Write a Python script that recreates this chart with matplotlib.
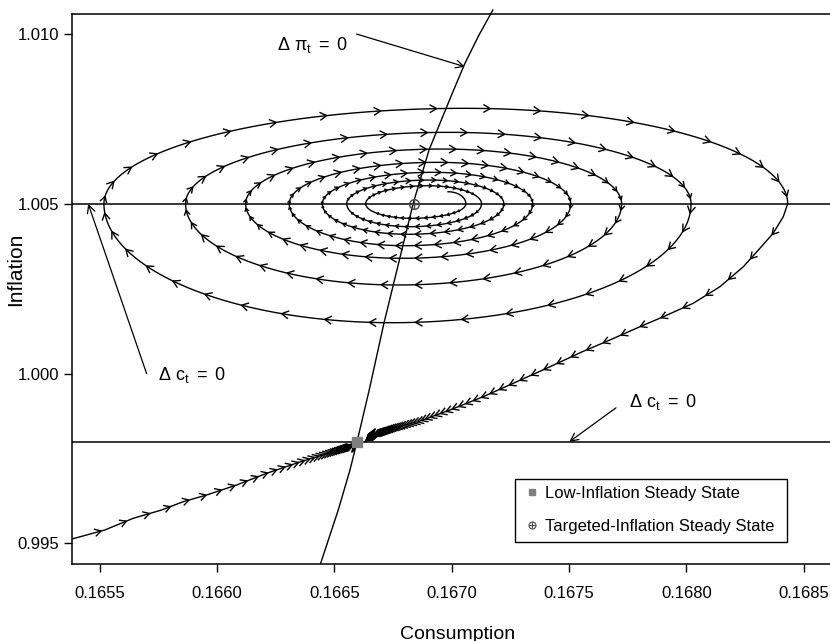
import numpy as np
import matplotlib.pyplot as plt
from matplotlib.collections import LineCollection
from matplotlib.lines import Line2D
from matplotlib.patches import Rectangle

plt.rcParams['font.family'] = ['Liberation Sans', 'DejaVu Sans']
plt.rcParams['mathtext.fontset'] = 'custom'
plt.rcParams['mathtext.rm'] = 'Liberation Sans'
plt.rcParams['mathtext.it'] = 'Liberation Sans'
plt.rcParams['mathtext.bf'] = 'Liberation Sans:bold'

# ---- values ----
# steady states (consumption, inflation)
low_ss = (0.166594, 0.99799)
target_ss = (0.16684, 1.005)

# delta pi = 0 locus
dpi_cons = [0.166441, 0.166516, 0.166566, 0.166596, 0.166648, 0.166711,
            0.166836, 0.166903, 0.166999, 0.167056, 0.167116, 0.167175]
dpi_infl = [0.99441, 0.995981, 0.997159, 0.997992, 0.999515, 1.001488,
            1.005023, 1.006584, 1.008203, 1.009137, 1.009971, 1.010707]

# delta c = 0 loci
dc_upper = 1.005
dc_lower = 0.99799

# spiral around the targeted steady state (turning points, inside out)
spiral_start = (0.166984, 1.005355)
right_cons = [0.167060, 0.167127, 0.167222, 0.167345, 0.167507, 0.167724, 0.168020, 0.168432]
left_cons = [0.166633, 0.166552, 0.166448, 0.166307, 0.166121, 0.165865, 0.165517]
top_cons = [0.166898, 0.166907, 0.166920, 0.166937, 0.166958, 0.166984, 0.167056]
top_infl = [1.005532, 1.005700, 1.005927, 1.006221, 1.006613, 1.007105, 1.007812]
bottom_cons = [0.166830, 0.166822, 0.166813, 0.166800, 0.166788, 0.166770, 0.166745]
bottom_infl = [1.004572, 1.004325, 1.004101, 1.003765, 1.003394, 1.002608, 1.001497]

# saddle path into the low-inflation steady state
upper_cons = [0.168432, 0.168413, 0.168370, 0.168307, 0.168243, 0.168143, 0.168029,
              0.167902, 0.167802, 0.167674, 0.167554, 0.167404, 0.167277, 0.167134,
              0.166992, 0.166864, 0.166750, 0.166665, 0.166630]
upper_infl = [1.005000, 1.004619, 1.004130, 1.003638, 1.003147, 1.002557, 1.002069,
              1.001674, 1.001379, 1.000988, 1.000634, 1.000154, 0.999759, 0.999318,
              0.998926, 0.998602, 0.998381, 0.998190, 0.997998]
lower_cons = [0.165381, 0.165521, 0.165642, 0.165763, 0.165855, 0.165955, 0.166083,
              0.166211, 0.166353, 0.166495, 0.166580, 0.166594]
lower_infl = [0.995127, 0.995392, 0.995736, 0.995981, 0.996225, 0.996423, 0.996717,
              0.997062, 0.997395, 0.997698, 0.997880, 0.997984]


def quarter(p_h, p_v, n=41):
    """quarter ellipse from a point with horizontal tangent to one with vertical tangent"""
    t = np.linspace(0, np.pi / 2, n)
    x = p_h[0] + (p_v[0] - p_h[0]) * np.sin(t)
    y = p_v[1] + (p_h[1] - p_v[1]) * np.cos(t)
    return np.column_stack([x, y])


def head(p, u, h, ang=np.deg2rad(30)):
    c, s = np.cos(ang), np.sin(ang)
    b = -u
    l = np.array([c * b[0] - s * b[1], s * b[0] + c * b[1]])
    r = np.array([c * b[0] + s * b[1], -s * b[0] + c * b[1]])
    return [[p, p + h * l], [p, p + h * r]]


fig = plt.figure(figsize=(8.3, 6.41), dpi=100)
ax = fig.add_axes([72 / 830, 77 / 641, 772 / 830, 550 / 641])
ax.set_xlim(0.165381, 0.168672)
ax.set_ylim(0.99439, 1.01059)

# nullclines
ax.axhline(dc_upper, color='black', lw=1.1)
ax.axhline(dc_lower, color='black', lw=1.1)
ax.plot(dpi_cons, dpi_infl, color='black', lw=1.0, clip_on=False)

# spiral path
arcs = [quarter(spiral_start, (right_cons[0], dc_upper))]
for i in range(len(left_cons)):
    R = (right_cons[i], dc_upper)
    B = (bottom_cons[i], bottom_infl[i])
    L = (left_cons[i], dc_upper)
    T = (top_cons[i], top_infl[i])
    Rn = (right_cons[i + 1], dc_upper)
    arcs += [quarter(B, R)[::-1], quarter(B, L), quarter(T, L)[::-1], quarter(T, Rn)]

spiral = np.vstack(arcs)
ax.plot(spiral[:, 0], spiral[:, 1], color='black', lw=1.0)
ax.plot(upper_cons, upper_infl, color='black', lw=1.0)
ax.plot(lower_cons, lower_infl, color='black', lw=1.0)

segs = []
for k, arc in enumerate(arcs):
    d = ax.transData.transform(arc)
    idx = range(2, len(arc), 4) if k > 0 else [20, 36]
    for j in idx:
        u = d[min(j + 1, len(d) - 1)] - d[j - 1]
        u = u / np.hypot(*u)
        gap = np.hypot(*(d[min(j + 2, len(d) - 1)] - d[j - 2]))
        h = min(8.0, 0.45 * gap)
        if h > 2.0:
            segs += head(d[j], u, h)


def branch_heads(cons, infl, ratio, size=7.5):
    d = ax.transData.transform(np.column_stack([cons, infl]))
    seg = np.diff(d, axis=0)
    seglen = np.hypot(seg[:, 0], seg[:, 1])
    cum = np.concatenate([[0], np.cumsum(seglen)])
    total = cum[-1]
    out = []
    dist = total * ratio
    while dist > 1.2:
        s = total - dist
        i = min(np.searchsorted(cum, s, side='right') - 1, len(seg) - 1)
        p = d[i] + (s - cum[i]) / seglen[i] * seg[i]
        out += head(p, seg[i] / seglen[i], size)
        dist *= ratio
    return out


segs += branch_heads(upper_cons, upper_infl, 0.93)
segs += branch_heads(lower_cons, lower_infl, 0.90)
inv = ax.transData.inverted()
segs = [inv.transform(np.array(s)) for s in segs]
ax.add_collection(LineCollection(segs, colors='black', linewidths=1.0))

# steady states
ax.plot(*low_ss, marker='s', color='#7f7f7f', ms=7, ls='none', zorder=5)
ax.plot(*target_ss, marker='o', mfc='none', mec='#444444', ms=7, mew=1.0, ls='none', zorder=5)
ax.plot(*target_ss, marker='+', color='#444444', ms=7, mew=1.0, ls='none', zorder=5)

# labels on the loci
arrow_kw = dict(arrowstyle='->', color='black', lw=0.9, shrinkA=0, shrinkB=0,
                mutation_scale=14)
ax.annotate('', xy=(0.167056, 1.009037), xytext=(0.166594, 1.0100), arrowprops=arrow_kw)
ax.text(0.166253, 1.009529, r'$\Delta\ \pi_{t}\ =\ 0$', fontsize=13, va='baseline')
ax.annotate('', xy=(0.16545, 1.005), xytext=(0.165699, 1.0000), arrowprops=arrow_kw)
ax.text(0.165747, 0.99981, r'$\Delta\ c_{t}\ =\ 0$', fontsize=13, va='baseline')
ax.annotate('', xy=(0.167501, 0.99799), xytext=(0.1677, 0.99899), arrowprops=arrow_kw)
ax.text(0.167757, 0.999025, r'$\Delta\ c_{t}\ =\ 0$', fontsize=13, va='baseline')

# axes styling
ax.set_xticks([0.1655, 0.1660, 0.1665, 0.1670, 0.1675, 0.1680, 0.1685])
ax.set_xticklabels(['0.1655', '0.1660', '0.1665', '0.1670', '0.1675', '0.1680', '0.1685'])
ax.set_yticks([0.995, 1.000, 1.005, 1.010])
ax.set_yticklabels(['0.995', '1.000', '1.005', '1.010'])
ax.tick_params(direction='out', length=6, width=1.0, labelsize=12, colors='black')
ax.tick_params(axis='x', pad=10)
ax.tick_params(axis='y', pad=3.5)
ax.spines['right'].set_visible(False)
for side in ['left', 'top', 'bottom']:
    ax.spines[side].set_linewidth(1.1)
ax.set_xlabel('Consumption', fontsize=14)
ax.set_ylabel('Inflation', fontsize=15)
ax.xaxis.set_label_coords(0.5, -0.112)
ax.yaxis.set_label_coords(-0.0609, 0.535)

# legend
h_low = Line2D([], [], marker='s', color='#7f7f7f', ms=5, ls='none')
h_circ = Line2D([], [], marker='o', mfc='none', mec='#444444', ms=5, mew=0.8, ls='none')
h_plus = Line2D([], [], marker='+', color='#444444', ms=5, mew=0.8, ls='none')
box_x0, box_y0 = (515 - 72) / 772, (564 - 541.7) / 550
box_w, box_h = (786.7 - 515) / 772, (541.7 - 479) / 550
ax.legend([h_low, (h_circ, h_plus)],
          ['Low-Inflation Steady State', 'Targeted-Inflation Steady State'],
          loc='upper left', bbox_to_anchor=(box_x0, box_y0 + box_h),
          borderaxespad=0, fontsize=12, frameon=False, borderpad=0.4,
          handlelength=1.2, handletextpad=0.2, labelspacing=1.08)
ax.add_patch(Rectangle((box_x0, box_y0), box_w, box_h, transform=ax.transAxes,
                       fill=False, edgecolor='black', lw=1.0, zorder=6))

fig.savefig('out.png', dpi=100)
